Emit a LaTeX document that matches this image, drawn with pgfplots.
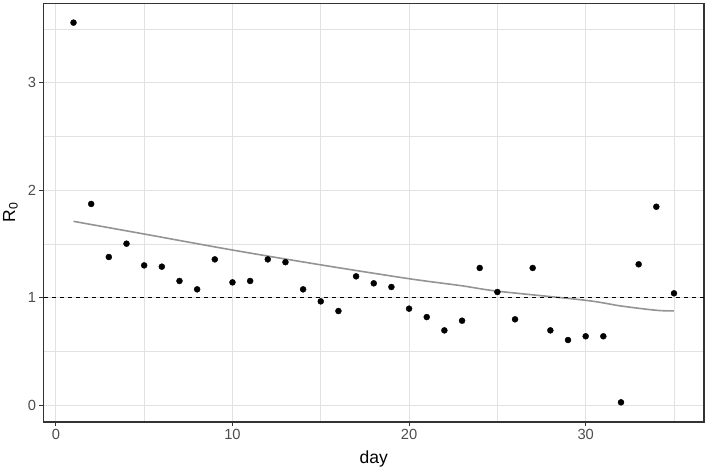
\documentclass[border=0pt]{standalone}
\usepackage{fontspec}
\setmainfont{Liberation Sans}
\usepackage{pgfplots}
\pgfplotsset{compat=1.18}
\definecolor{gridc}{RGB}{226,226,226}
\definecolor{grey20}{RGB}{51,51,51}
\definecolor{grey30}{RGB}{77,77,77}
\definecolor{trend}{RGB}{148,148,148}
\begin{document}
\begin{tikzpicture}
\useasboundingbox (0,0) rectangle (709bp,470bp);
\begin{axis}[
  at={(43.5bp,48bp)}, anchor=south west,
  scale only axis, width=660.5bp, height=418.7bp,
  xmin=-0.7, xmax=36.7, ymin=-0.158, ymax=3.74,
  xtick={0,10,20,30}, ytick={0,1,2,3},
  minor xtick={5,15,25,35}, minor ytick={0.5,1.5,2.5,3.5},
  grid=both,
  major grid style={draw=gridc, line width=1bp},
  minor grid style={draw=gridc, line width=0.6bp},
  minor tick length=0pt,
  major tick length=4bp,
  tick align=outside,
  xtick pos=bottom, ytick pos=left,
  tick style={draw=grey20, line width=0.8bp},
  axis line style={draw=grey20, line width=1.1bp},
  /pgf/number format/assume math mode=true,
  tick label style={font=\fontsize{14.7bp}{17bp}\selectfont, text=grey30},
  label style={font=\fontsize{17.5bp}{20bp}\selectfont, text=black},
  xlabel={day},
  ylabel={R\textsubscript{0}},
  xlabel style={at={(rel axis cs:0.5,0)}, anchor=base, yshift=-41bp},
  ylabel style={at={(rel axis cs:0,0.5)}, anchor=base, yshift=28.5bp},
  clip=true,
]
\addplot[only marks, mark=*, mark size=3bp, draw=black, fill=black] coordinates {
(1,3.56) (2,1.872) (3,1.378) (4,1.502) (5,1.30) (6,1.288) (7,1.155) (8,1.077)
(9,1.356) (10,1.142) (11,1.155) (12,1.356) (13,1.33) (14,1.077) (15,0.965)
(16,0.875) (17,1.198) (18,1.133) (19,1.099) (20,0.897) (21,0.819) (22,0.695)
(23,0.785) (24,1.276) (25,1.052) (26,0.798) (27,1.276) (28,0.695) (29,0.605)
(30,0.64) (31,0.64) (32,0.025) (33,1.31) (34,1.846) (35,1.04)
};
\addplot[trend, line width=1.6bp, smooth] coordinates {
(1,1.71) (5,1.592) (10,1.443) (15,1.305) (20,1.176) (23,1.11) (25,1.06)
(30,0.975) (32,0.922) (34,0.882) (35,0.876)
};
\addplot[black, line width=1.1bp, dash pattern=on 4bp off 4bp] coordinates {(-0.7,1) (36.7,1)};
\end{axis}
\end{tikzpicture}
\end{document}
